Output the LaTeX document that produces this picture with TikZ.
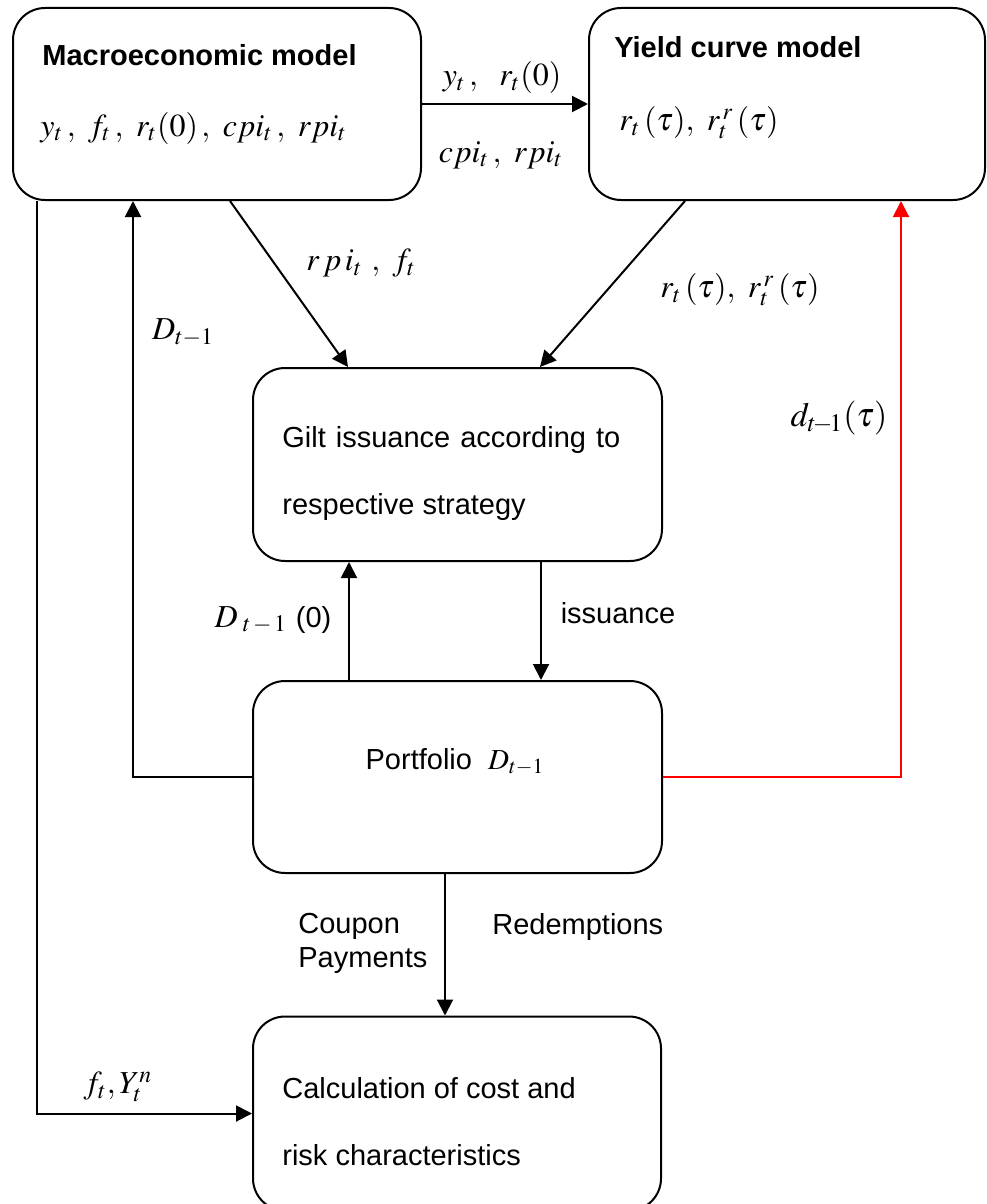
\documentclass[tikz,border=0pt]{standalone}
\usepackage{mathptmx}
\usepackage[no-math]{fontspec}
\setmainfont{Liberation Sans}
\usetikzlibrary{arrows.meta}
\definecolor{feedbackred}{RGB}{255,0,0}

\tikzset{
	box/.style={draw, line width=1pt, rounded corners=16pt, inner sep=0pt},
	lbl/.style={inner sep=0pt},
	mlbl/.style={inner sep=0pt, font=\fontsize{16pt}{19pt}\selectfont},
	arr/.style={line width=1pt, -{Triangle[length=8pt, width=8pt]}}
}

\begin{document}
\begin{tikzpicture}[x=0.5pt, y=-0.5pt, font=\fontsize{14.5pt}{17pt}\selectfont]

	\useasboundingbox (0,0) rectangle (986,1204);

	% Boxes
	\node[box, minimum width=204pt, minimum height=96pt] (macro) at (217,104) {};
	\node[box, minimum width=198pt, minimum height=96pt] (yield) at (787,104) {};
	\node[box, minimum width=204.5pt, minimum height=96.5pt] (gilt) at (457.5,464.5) {};
	\node[box, minimum width=204.5pt, minimum height=96pt] (port) at (457.5,777) {};
	\node[box, minimum width=204pt, minimum height=97pt] (calc) at (457,1113.5) {};

	% Box texts
	\node[lbl, anchor=west] (macrotitle) at (42,55) {\bfseries Macroeconomic model};
	\node[mlbl, anchor=west] (macrovars) at (40,128) {$y_t\,,\ f_t\,,\ r_t(0)\,,\ cpi_t\,,\ rpi_t$};
	\node[lbl, anchor=west] (yieldtitle) at (614,47) {\bfseries Yield curve model};
	\node[mlbl, anchor=west] (yieldvars) at (619,123) {$r_t\,(\tau),\ r_t^{\,r}\,(\tau)$};
	\node[lbl, anchor=west] (gilt1) at (282,440) {Gilt\hspace{5pt}issuance\hspace{5pt}according\hspace{5pt}to};
	\node[lbl, anchor=west] (gilt2) at (282,507) {respective strategy};
	\node[lbl] (porttext) at (455,762) {Portfolio\ \ $D_{t-1}$};
	\node[lbl, anchor=west] (calc1) at (282,1088) {Calculation of cost and};
	\node[lbl, anchor=west] (calc2) at (282,1155) {risk characteristics};

	% Connectors
	\draw[arr] (macro.east) -- (yield.west);
	\draw[arr] (macro.south -| 230,0) -- (gilt.north -| 348,0);
	\draw[arr] (yield.south -| 685,0) -- (gilt.north -| 540,0);
	\draw[arr] (port.west) -| (macro.south -| 133,0);
	\draw[arr] (macro.south -| 37,0) |- (calc.west);
	\draw[arr] (port.north -| 349,0) -- (gilt.south -| 349,0);
	\draw[arr] (gilt.south -| 541,0) -- (port.north -| 541,0);
	\draw[arr] (port.south -| 445,0) -- (calc.north -| 445,0);
	\draw[arr, feedbackred] (port.east) -| (yield.south -| 901,0);

	% Connector labels
	\node[mlbl] (ytrt) at (502,78) {$y_t\,,\ \ r_t(0)$};
	\node[mlbl] (cpirpi) at (501,155) {$cpi_t\,,\ rpi_t$};
	\node[mlbl] (rpift) at (361,263) {$r\,p\,i_t\ ,\ f_t$};
	\node[mlbl] (dlag) at (183,333) {$D_{t-1}$};
	\node[mlbl] (rtau) at (740,290) {$r_t\,(\tau),\ r_t^{\,r}\,(\tau)$};
	\node[lbl, font=\fontsize{17pt}{20pt}\selectfont] (dtau) at (839,418) {$d_{t\!-\!1}(\tau)$};
	\node[mlbl] (dzero) at (273,620) {$D_{\;t\,-\,1}$\ \fontsize{14.5pt}{17pt}\selectfont(0)};
	\node[lbl] (iss) at (618,613) {issuance};
	\node[lbl, anchor=west, align=left] (coupon) at (298,943.5) {Coupon\\Payments};
	\node[lbl, anchor=west] (redeem) at (492,927) {Redemptions};
	\node[mlbl] (ftyt) at (118,1087) {$f_t, Y_t^n$};

\end{tikzpicture}
\end{document}
